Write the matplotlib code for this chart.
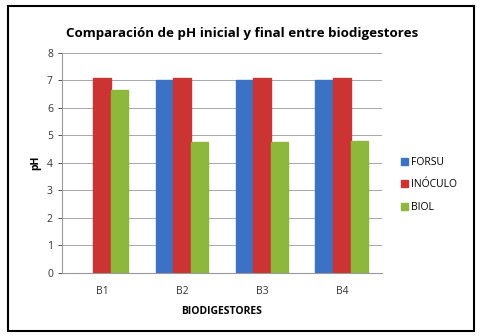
import numpy as np
import matplotlib.pyplot as plt
from matplotlib.patches import Rectangle

categories = ["B1", "B2", "B3", "B4"]
forsu = [np.nan, 7.0, 7.0, 7.0]
inoculo = [7.1, 7.1, 7.1, 7.1]
biol = [6.65, 4.75, 4.75, 4.8]
series_names = ["FORSU", "INÓCULO", "BIOL"]
colors = ["#3B72C4", "#CC3333", "#8DB83C"]

plt.rcParams["font.family"] = ["Open Sans", "DejaVu Sans"]

fig = plt.figure(figsize=(4.84, 3.36), dpi=100)
ax = fig.add_axes([0.128, 0.1875, 0.661, 0.655])

x = np.arange(len(categories))
w = 0.22
for i, (vals, name, c) in enumerate(zip([forsu, inoculo, biol], series_names, colors)):
    ax.bar(x + (i - 1) * w, vals, width=w, color=c, edgecolor=c, label=name, zorder=3)

ax.set_xlim(-0.5, 3.5)
ax.set_ylim(0, 8)
ax.set_yticks(range(0, 9))
ax.set_xticks(x)
ax.set_xticklabels(categories)
ax.tick_params(axis="both", labelsize=7.5, colors="#333333", length=3, width=0.6)
ax.tick_params(axis="x", length=0, pad=9)
ax.grid(axis="y", color="#999999", linewidth=0.6, zorder=0)
for s in ["top", "right"]:
    ax.spines[s].set_visible(False)
for s in ["left", "bottom"]:
    ax.spines[s].set_color("#999999")
    ax.spines[s].set_linewidth(0.8)

ax.set_ylabel("pH", fontsize=7.5, fontweight="bold", labelpad=4)
ax.set_xlabel("BIODIGESTORES", fontsize=7.5, fontweight="bold", labelpad=7)
fig.text(0.5, 0.9, "Comparación de pH inicial y final entre biodigestores",
         ha="center", va="center", fontsize=9.6, fontweight="bold")

ax.legend(loc="center left", bbox_to_anchor=(1.03, 0.4), frameon=False,
          fontsize=7.5, handlelength=0.7, handleheight=0.7, labelspacing=1.1,
          handletextpad=0.3)

fig.patches.append(Rectangle((0.017, 0.015), 0.963, 0.968, transform=fig.transFigure,
                             fill=False, edgecolor="black", linewidth=1.5))

fig.savefig("out.png", dpi=100)
